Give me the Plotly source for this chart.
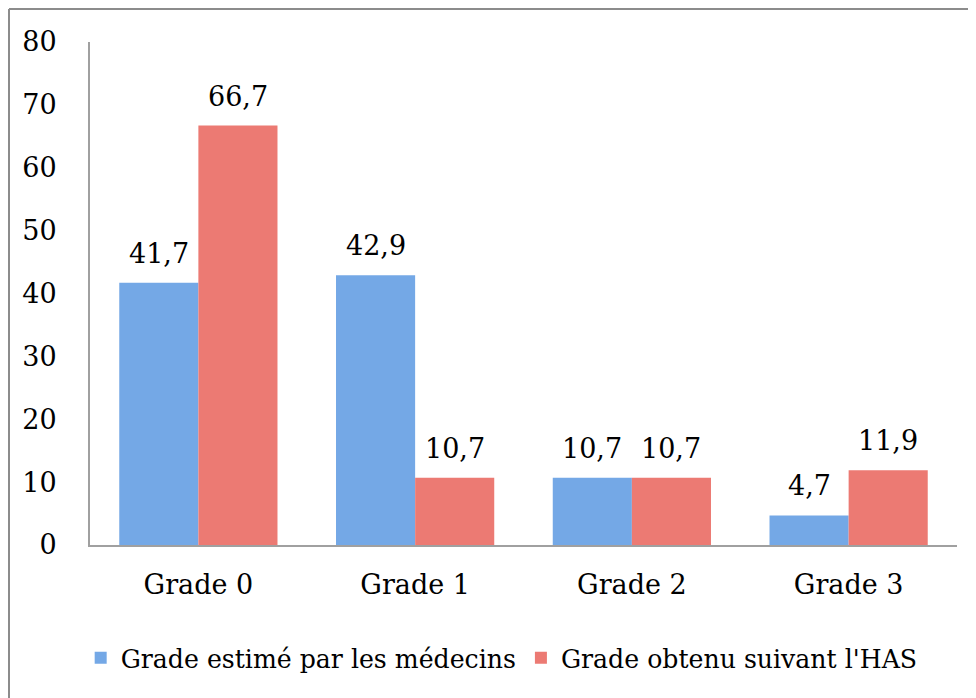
import plotly.graph_objects as go

categories = ["Grade 0", "Grade 1", "Grade 2", "Grade 3"]
series_names = ["Grade estimé par les médecins", "Grade obtenu suivant l'HAS"]
estime = [41.7, 42.9, 10.7, 4.7]
has = [66.7, 10.7, 10.7, 11.9]
y_ticks = [0, 10, 20, 30, 40, 50, 60, 70, 80]

FONT = "DejaVu Serif"
FS = 27
LFS = 25.2
# page body has an 8px margin, so the figure is sized/offset to compensate
W, H = 968, 690
ML, MR, MT, MB = 82, 19, 34, 153

fig = go.Figure()
fig.add_trace(go.Bar(name=series_names[0], x=categories, y=estime,
                     marker=dict(color="#74A8E6", line=dict(width=0))))
fig.add_trace(go.Bar(name=series_names[1], x=categories, y=has,
                     marker=dict(color="#EC7A73", line=dict(width=0))))

annotations = []
for vals, shift in ((estime, -39.5), (has, 39.5)):
    for c, v in zip(categories, vals):
        annotations.append(dict(x=c, y=v, xref="x", yref="y",
                                text=f"{v:.1f}".replace(".", ","),
                                showarrow=False, yanchor="bottom",
                                xshift=shift, yshift=12,
                                font=dict(family=FONT, size=FS, color="black")))

pw = W - ML - MR
ph = H - MT - MB
x0 = -(ML - 1) / pw
y1 = 1 + (MT - 1) / ph
shapes = [
    dict(type="line", xref="paper", yref="paper", x0=x0, x1=1 + (MR + 10) / pw, y0=y1, y1=y1,
         line=dict(color="#8C8C8C", width=2)),
    dict(type="line", xref="paper", yref="paper", x0=x0, x1=x0, y0=-(MB + 10) / ph, y1=y1,
         line=dict(color="#8C8C8C", width=2)),
]

fig.update_layout(
    width=W, height=H,
    margin=dict(l=ML, r=MR, t=MT, b=MB),
    paper_bgcolor="white", plot_bgcolor="white",
    barmode="group", bargap=0.27, bargroupgap=0,
    separators=", ",
    font=dict(family=FONT, size=FS, color="black"),
    showlegend=True,
    legend=dict(orientation="h", xref="container", yref="container",
                x=0.51, xanchor="center", y=0.058, yanchor="middle",
                font=dict(family=FONT, size=LFS, color="black"),
                itemwidth=30, traceorder="normal"),
    xaxis=dict(showline=True, linecolor="#A0A0A0", linewidth=2, ticks="",
               showgrid=False, ticklabelstandoff=15,
               tickfont=dict(family=FONT, size=FS, color="black")),
    yaxis=dict(range=[0, 80], tickvals=y_ticks, showline=True, linecolor="#A0A0A0",
               linewidth=2, ticks="", showgrid=False, zeroline=False,
               ticklabelstandoff=26,
               tickfont=dict(family=FONT, size=FS, color="black")),
    annotations=annotations,
    shapes=shapes,
)

fig.write_html("out.html")
